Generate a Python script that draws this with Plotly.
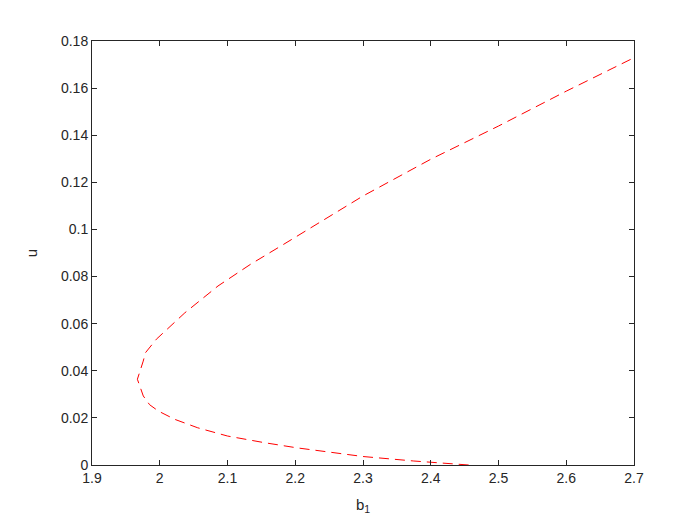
import plotly.graph_objects as go

# Branch, from the lower end round the turning point to the top
b1 = [2.456, 2.375, 2.300, 2.228, 2.202, 2.154, 2.100, 2.056, 2.022, 1.998,
      1.985, 1.9757, 1.967, 1.9756, 1.979, 1.995, 2.037, 2.086, 2.134, 2.183,
      2.300, 2.400, 2.500, 2.600, 2.700]
u = [0.0000, 0.0017, 0.0036, 0.0062, 0.0073, 0.0095, 0.0123, 0.0158, 0.0194, 0.0229,
     0.0256, 0.0293, 0.0364, 0.0441, 0.0477, 0.0534, 0.0646, 0.0760, 0.0852, 0.0937,
     0.1142, 0.1298, 0.1439, 0.1587, 0.1729]

x_ticks = [1.9, 2.0, 2.1, 2.2, 2.3, 2.4, 2.5, 2.6, 2.7]
x_labels = ["1.9", "2", "2.1", "2.2", "2.3", "2.4", "2.5", "2.6", "2.7"]
y_ticks = [0, 0.02, 0.04, 0.06, 0.08, 0.1, 0.12, 0.14, 0.16, 0.18]
y_labels = ["0", "0.02", "0.04", "0.06", "0.08", "0.1", "0.12", "0.14", "0.16", "0.18"]

fig = go.Figure()

fig.add_trace(
    go.Scatter(
        x=b1,
        y=u,
        mode="lines",
        line=dict(color="#ff0000", width=1, dash="10px,6px"),
        showlegend=False,
    )
)

axis_style = dict(
    showgrid=False,
    zeroline=False,
    showline=True,
    linecolor="#262626",
    linewidth=1,
    mirror="ticks",
    ticks="inside",
    ticklen=5,
    tickcolor="#262626",
    tickfont=dict(family="Arial, Liberation Sans, sans-serif", size=14, color="#262626"),
)

fig.update_layout(
    width=700,
    height=525,
    paper_bgcolor="white",
    plot_bgcolor="white",
    margin=dict(l=84, r=74, t=33, b=68),
    font=dict(family="Arial, Liberation Sans, sans-serif", color="#262626"),
    xaxis=dict(
        range=[1.9, 2.7],
        tickvals=x_ticks,
        ticktext=x_labels,
        title=dict(text="b<sub>1</sub>", font=dict(size=15), standoff=14),
        **axis_style,
    ),
    yaxis=dict(
        range=[0, 0.18],
        tickvals=y_ticks,
        ticktext=y_labels,
        title=dict(text="u", font=dict(size=15), standoff=19),
        **axis_style,
    ),
)

fig.write_html("out.html")
